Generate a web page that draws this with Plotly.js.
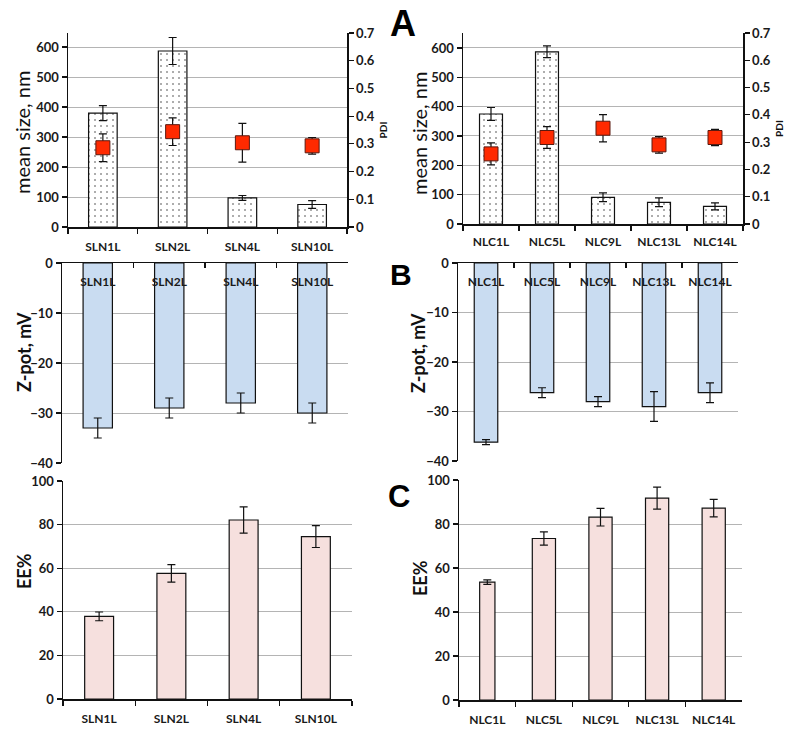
<!DOCTYPE html>
<html>
<head>
<meta charset="utf-8">
<script src="https://cdn.plot.ly/plotly-3.0.1.min.js"></script>
<style>html,body{margin:0;padding:0;background:#fff;}#chart{width:799px;height:730px;}</style>
</head>
<body>
<div id="chart"></div>
<script>
// ---- data ----
const slnCats = ['SLN1L', 'SLN2L', 'SLN4L', 'SLN10L'];
const nlcCats = ['NLC1L', 'NLC5L', 'NLC9L', 'NLC13L', 'NLC14L'];

const slnSize = [380, 587, 97, 75];
const slnSizeErr = [25, 45, 8, 13];
const slnPdi = [0.286, 0.344, 0.304, 0.293];
const slnPdiErr = [0.05, 0.05, 0.07, 0.03];

const nlcSize = [375, 587, 91, 74, 60];
const nlcSizeErr = [22, 20, 15, 15, 12];
const nlcPdi = [0.257, 0.317, 0.351, 0.290, 0.317];
const nlcPdiErr = [0.04, 0.04, 0.05, 0.03, 0.03];

const slnZ = [-33, -29, -28, -30];
const slnZErr = [2, 2, 2, 2];
const nlcZ = [-36.2, -26.2, -28, -29, -26.2];
const nlcZErr = [0.5, 1, 1, 3, 2];

const slnEE = [37.9, 57.6, 82.1, 74.5];
const slnEEErr = [2, 4, 6, 5];
const nlcEE = [53.6, 73.4, 83.1, 91.8, 87.2];
const nlcEEErr = [1, 3, 4, 5, 4];

const panelLetters = ['A', 'B', 'C'];
const sizeTitle = 'mean size, nm';
const zTitle = 'Z-pot, mV';
const eeTitle = 'EE%';
const pdiTitle = 'PDI';

// ---- styles ----
const FONT = 'Lato, "Open Sans", Arial, sans-serif';
const tickFont = {family: FONT, size: 13, color: '#1a1a1a', weight: 700};
const xTickFont = {family: FONT, size: 12, color: '#1a1a1a', weight: 700};
const titleFont = {family: FONT, size: 18, color: '#111', weight: 700};
const sizeTitleFont = {family: FONT, size: 20, color: '#111', weight: 400};
const letterFont = (s) => ({family: 'Liberation Sans, Arial, sans-serif', size: s, color: '#000', weight: 700});
const gridC = '#b4b4b4';
const err = (arr) => ({type: 'data', array: arr, visible: true, color: '#111', thickness: 1.2, width: 4});
const dotted = {shape: '.', fgcolor: '#444', bgcolor: '#ffffff', size: 6, solidity: 0.06};
const blue = '#c9dcf1';
const pink = '#f6e0de';
const line = {color: '#111', width: 1.2};

function sizeBar(cats, vals, errs, xa, ya) {
  return {type: 'bar', x: cats, y: vals, xaxis: xa, yaxis: ya, width: 0.41,
    error_y: err(errs), marker: {color: '#fff', pattern: dotted, line: line}, hoverinfo: 'skip'};
}
function pdiPts(cats, vals, errs, xa, ya) {
  return {type: 'scatter', mode: 'markers', x: cats, y: vals, xaxis: xa, yaxis: ya,
    error_y: err(errs), marker: {symbol: 'square', size: 14, color: '#ff2a00', line: {color: '#5a1a10', width: 1}}, hoverinfo: 'skip'};
}
function plainBar(cats, vals, errs, xa, ya, color, widths) {
  return {type: 'bar', x: cats, y: vals, xaxis: xa, yaxis: ya, width: widths,
    error_y: err(errs), marker: {color: color, line: line}, hoverinfo: 'skip'};
}

const data = [
  sizeBar(slnCats, slnSize, slnSizeErr, 'x', 'y'),
  pdiPts(slnCats, slnPdi, slnPdiErr, 'x', 'y2'),
  sizeBar(nlcCats, nlcSize, nlcSizeErr, 'x2', 'y3'),
  pdiPts(nlcCats, nlcPdi, nlcPdiErr, 'x2', 'y4'),
  plainBar(slnCats, slnZ, slnZErr, 'x3', 'y5', blue, 0.41),
  plainBar(nlcCats, nlcZ, nlcZErr, 'x4', 'y6', blue, 0.42),
  plainBar(slnCats, slnEE, slnEEErr, 'x5', 'y7', pink, 0.4),
  plainBar(nlcCats, nlcEE, nlcEEErr, 'x6', 'y8', pink, [0.27, 0.41, 0.41, 0.41, 0.41])
];

const W = 799, H = 730;
const dx = (a, b) => [a / W, b / W];
const dy = (top, bottom) => [1 - bottom / H, 1 - top / H];

function catAxis(domain, anchor, n, extra) {
  return Object.assign({
    domain: domain, anchor: anchor, type: 'category', range: [-0.5, n - 0.5],
    showline: true, linecolor: '#111', linewidth: 1.5, mirror: false,
    ticks: 'outside', tickson: 'boundaries', ticklen: 5, tickcolor: '#111', tickwidth: 1.2,
    tickfont: xTickFont, ticklabelstandoff: 8, showgrid: false, zeroline: false, fixedrange: true
  }, extra || {});
}
function valAxis(domain, anchor, range, dtick) {
  return {
    domain: domain, anchor: anchor, range: range, dtick: dtick,
    showline: true, linecolor: '#111', linewidth: 1.5,
    ticks: 'outside', ticklen: 5, tickcolor: '#111', tickwidth: 1.2,
    tickfont: tickFont, showgrid: true, gridcolor: gridC, gridwidth: 1, zeroline: false,
    fixedrange: true
  };
}
function pdiAxis(overlay, anchor) {
  return {
    overlaying: overlay, anchor: anchor, side: 'right', range: [0, 0.7], dtick: 0.1,
    showline: true, linecolor: '#111', linewidth: 1.5,
    ticks: 'outside', ticklen: 5, tickcolor: '#111', tickwidth: 1.2,
    tickfont: tickFont, showgrid: false, zeroline: false,
    title: {text: pdiTitle, font: {family: FONT, size: 10, color: '#111', weight: 700}, standoff: 6},
    fixedrange: true
  };
}
const topInside = {side: 'top', ticks: 'inside', ticklabelposition: 'outside', ticklabelstandoff: -29};

function yTitle(text, px, py, font) {
  return {text: text, xref: 'paper', yref: 'paper', x: px / W, y: 1 - py / H,
    xanchor: 'center', yanchor: 'middle', textangle: -90, showarrow: false, font: font};
}
function letter(text, px, py, s) {
  return {text: text, xref: 'paper', yref: 'paper', x: px / W, y: 1 - py / H,
    xanchor: 'center', yanchor: 'middle', showarrow: false, font: letterFont(s)};
}

const layout = {
  width: W, height: H, showlegend: false, barmode: 'overlay',
  margin: {l: 0, r: 0, t: 0, b: 0},
  paper_bgcolor: '#fff', plot_bgcolor: 'rgba(0,0,0,0)',
  font: {family: FONT},
  xaxis: catAxis(dx(68, 347), 'y', 4),
  yaxis: valAxis(dy(33, 227), 'x', [0, 647], 100),
  yaxis2: pdiAxis('y', 'x'),
  xaxis2: catAxis(dx(463, 743), 'y3', 5, {ticklabelstandoff: 6}),
  yaxis3: valAxis(dy(33, 224), 'x2', [0, 651], 100),
  yaxis4: pdiAxis('y3', 'x2'),
  xaxis3: catAxis(dx(62, 348), 'y5', 4, topInside),
  yaxis5: valAxis(dy(263, 463), 'x3', [-40, 0], 10),
  xaxis4: catAxis(dx(458, 738), 'y6', 5, topInside),
  yaxis6: valAxis(dy(263, 461), 'x4', [-40, 0], 10),
  xaxis5: catAxis(dx(63, 352), 'y7', 4),
  yaxis7: valAxis(dy(481, 699), 'x5', [0, 100], 20),
  xaxis6: catAxis(dx(459, 742), 'y8', 5),
  yaxis8: valAxis(dy(480, 700), 'x6', [0, 100], 20),
  annotations: [
    yTitle(sizeTitle, 22, 133, sizeTitleFont),
    yTitle(sizeTitle, 419, 134, sizeTitleFont),
    yTitle(zTitle, 24, 352, titleFont),
    yTitle(zTitle, 418, 353, titleFont),
    yTitle(eeTitle, 24, 571, titleFont),
    yTitle(eeTitle, 420, 578, titleFont),
    letter(panelLetters[0], 403, 23, 36),
    letter(panelLetters[1], 401, 275, 30),
    letter(panelLetters[2], 399, 496, 31)
  ]
};

Plotly.newPlot('chart', data, layout, {staticPlot: true, displayModeBar: false});
</script>
</body>
</html>
